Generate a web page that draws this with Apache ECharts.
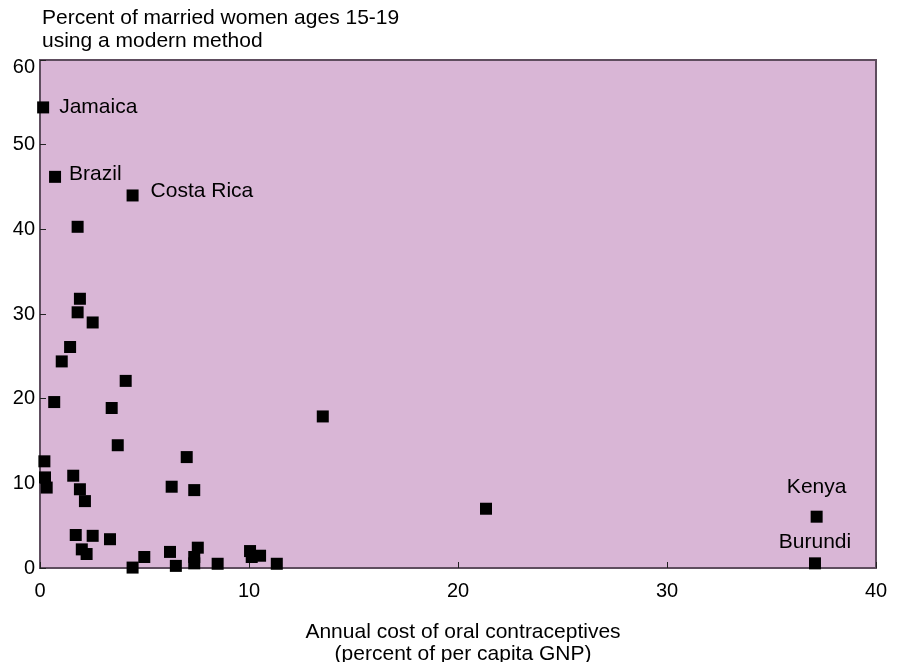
<!DOCTYPE html>
<html>
<head>
<meta charset="utf-8">
<script src="https://cdn.jsdelivr.net/npm/echarts@6/dist/echarts.min.js"></script>
<style>html,body{margin:0;padding:0;background:#fff;}#c{width:901px;height:662px;}</style>
</head>
<body>
<div id="c"></div>
<script>
// Annual cost of oral contraceptives (% of per capita GNP)
const costPct = [0.15, 0.72, 4.43, 1.80, 1.91, 1.80, 2.52, 1.44, 1.04, 4.10,
  0.68, 3.43, 13.53, 3.72, 7.02, 0.21, 1.59, 0.24, 0.32, 6.30,
  1.91, 7.38, 2.15, 21.34, 37.16, 1.71, 2.52, 3.35, 2.00, 2.23,
  4.99, 6.22, 7.55, 7.38, 7.38, 4.43, 6.50, 8.50, 10.05, 10.13,
  10.53, 11.33, 37.08];
// Percent of married women ages 15-19 using a modern method
const modernUse = [54.4, 46.2, 44.0, 40.3, 31.8, 30.2, 29.0, 26.1, 24.4, 22.1,
  19.6, 18.9, 17.9, 14.5, 13.1, 12.6, 10.9, 10.7, 9.5, 9.6,
  9.3, 9.2, 7.9, 7.0, 6.06, 3.9, 3.8, 3.4, 2.2, 1.65,
  1.3, 1.9, 2.4, 1.3, 0.55, 0.05, 0.25, 0.5, 2.0, 1.3,
  1.45, 0.5, 0.55];
const countryNames = ['Jamaica', 'Brazil', 'Costa Rica', '', '', '', '', '', '', '',
  '', '', '', '', '', '', '', '', '', '',
  '', '', '', '', 'Kenya', '', '', '', '', '',
  '', '', '', '', '', '', '', '', '', '',
  '', '', 'Burundi'];
const xTicks = {min: 0, max: 40, interval: 10};
const yTicks = {min: 0, max: 60, interval: 10};

const labelStyle = {
  'Jamaica':   {position: 'right', distance: 10, offset: [0, 0]},
  'Brazil':    {position: 'right', distance: 8, offset: [0, -3]},
  'Costa Rica':{position: 'right', distance: 12, offset: [0, -4]},
  'Kenya':     {position: 'top', distance: 13, offset: [0, 0]},
  'Burundi':   {position: 'top', distance: 5, offset: [0, 0]}
};

const FONT = '"Liberation Sans", Arial, sans-serif';
const data = costPct.map((x, i) => {
  const name = countryNames[i];
  const item = {value: [x, modernUse[i]], name: name};
  if (name) {
    const s = labelStyle[name];
    item.label = {show: true, formatter: name, position: s.position, distance: s.distance,
      offset: s.offset, color: '#000', fontSize: 21, fontFamily: FONT};
  }
  return item;
});

const chart = echarts.init(document.getElementById('c'), null, {renderer: 'canvas'});
chart.setOption({
  backgroundColor: '#ffffff',
  animation: false,
  title: {
    text: 'Percent of married women ages 15-19\nusing a modern method',
    left: 37, top: 2,
    textStyle: {fontSize: 21, fontWeight: 'normal', color: '#000', fontFamily: FONT, lineHeight: 23}
  },
  grid: {
    left: 40, right: 25, top: 60, bottom: 94,
    containLabel: false, outerBoundsMode: 'none',
    show: true, backgroundColor: '#d9b6d6', borderColor: '#5e4d5e', borderWidth: 2
  },
  xAxis: {
    type: 'value', min: xTicks.min, max: xTicks.max, interval: xTicks.interval,
    name: 'Annual cost of oral contraceptives\n(percent of per capita GNP)',
    nameLocation: 'middle', nameGap: 53,
    nameTextStyle: {fontSize: 21, color: '#000', fontFamily: FONT, lineHeight: 22, padding: [0, 0, 0, 10]},
    axisLine: {show: true, lineStyle: {color: '#5e4d5e', width: 2}},
    axisTick: {show: true, inside: true, length: 6, lineStyle: {color: '#222', width: 1}},
    axisLabel: {fontSize: 20, color: '#000', fontFamily: FONT, margin: 13},
    splitLine: {show: false}
  },
  yAxis: {
    type: 'value', min: yTicks.min, max: yTicks.max, interval: yTicks.interval,
    axisLine: {show: true, lineStyle: {color: '#5e4d5e', width: 2}},
    axisTick: {show: true, inside: true, length: 6, lineStyle: {color: '#222', width: 1}},
    axisLabel: {
      fontSize: 20, color: '#000', fontFamily: FONT, margin: 5,
      formatter: v => (v === yTicks.max ? '{top|' + v + '}' : String(v)),
      rich: {top: {fontSize: 20, fontFamily: FONT, color: '#000', padding: [14, 0, 0, 0]}}
    },
    splitLine: {show: false}
  },
  series: [{
    type: 'scatter',
    symbol: 'rect',
    symbolSize: 12,
    clip: true,
    itemStyle: {color: '#000000', opacity: 1},
    data: data
  }]
});
</script>
</body>
</html>
